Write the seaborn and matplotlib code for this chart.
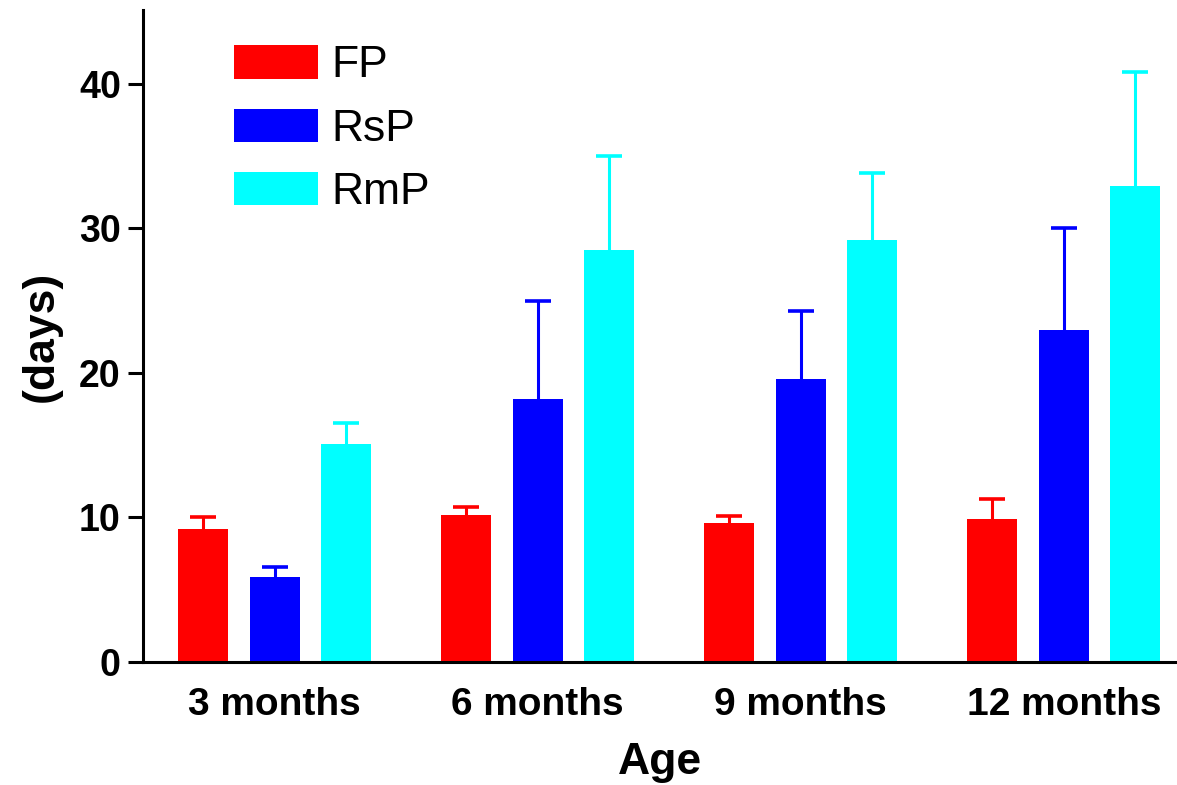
import pandas as pd
import numpy as np
import matplotlib
matplotlib.use("Agg")
import matplotlib.pyplot as plt
import seaborn as sns

# values (mean + upper error)
ages = ["3 months", "6 months", "9 months", "12 months"]
groups = ["FP", "RsP", "RmP"]
fp_mean = [9.2, 10.2, 9.6, 9.9]
rsp_mean = [5.9, 18.2, 19.6, 23.0]
rmp_mean = [15.1, 28.5, 29.2, 32.9]
fp_err = [0.8, 0.5, 0.5, 1.4]
rsp_err = [0.7, 6.8, 4.7, 7.0]
rmp_err = [1.4, 6.5, 4.6, 7.9]
colors = ["#ff0000", "#0000ff", "#00ffff"]

errs = {"FP": fp_err, "RsP": rsp_err, "RmP": rmp_err}

df = pd.DataFrame({
    "Age": ages * 3,
    "group": [g for g in groups for _ in ages],
    "days": fp_mean + rsp_mean + rmp_mean,
})

sns.set_style("ticks")
plt.rcParams["font.family"] = ["Liberation Sans", "DejaVu Sans"]
for k in ["text.color", "axes.labelcolor", "xtick.color", "ytick.color", "axes.edgecolor"]:
    plt.rcParams[k] = "black"

fig = plt.figure(figsize=(11.77, 7.85), dpi=100)
ax = fig.add_axes([0.1215, 0.1567, 0.8785, 0.8305])

sns.barplot(data=df, x="Age", y="days", hue="group", order=ages, hue_order=groups,
            palette=colors, errorbar=None, width=0.816, gap=0.3, saturation=1,
            linewidth=0, ax=ax)

# upward-only error bars (lower cap hidden)
for cont, g in zip(ax.containers, groups):
    xs = [p.get_x() + p.get_width() / 2 for p in cont.patches]
    ys = [p.get_height() for p in cont.patches]
    c = cont.patches[0].get_facecolor()
    eb = ax.errorbar(xs, ys, yerr=[np.zeros(len(ys)), errs[g]], fmt="none",
                     ecolor=c, elinewidth=2.2, capsize=9.5, capthick=2.6, zorder=0.5)
    eb[1][0].set_visible(False)

ax.set_xlim(-0.5, 3.43)
ax.set_ylim(0, 45.1)
ax.set_yticks([0, 10, 20, 30, 40])
ax.set_xlabel("Age", fontsize=32, fontweight="bold", labelpad=14)
ax.set_ylabel("(days)", fontsize=32, fontweight="bold", labelpad=12)
ax.tick_params(axis="y", length=11, width=2.2, labelsize=27, pad=5)
ax.tick_params(axis="x", length=0, labelsize=28, pad=18)
for lab in ax.get_xticklabels() + ax.get_yticklabels():
    lab.set_fontweight("bold")
for s in ["top", "right"]:
    ax.spines[s].set_visible(False)
ax.spines["left"].set_linewidth(2.2)
ax.spines["bottom"].set_linewidth(2.2)

handles, labels = ax.get_legend_handles_labels()
ax.legend(handles, labels, loc="upper left", bbox_to_anchor=(0.088, 0.946),
          frameon=False, fontsize=32, handlelength=1.9, handleheight=0.78,
          labelspacing=0.5, handletextpad=0.3, borderpad=0, borderaxespad=0)

fig.savefig("out.png", dpi=100)
